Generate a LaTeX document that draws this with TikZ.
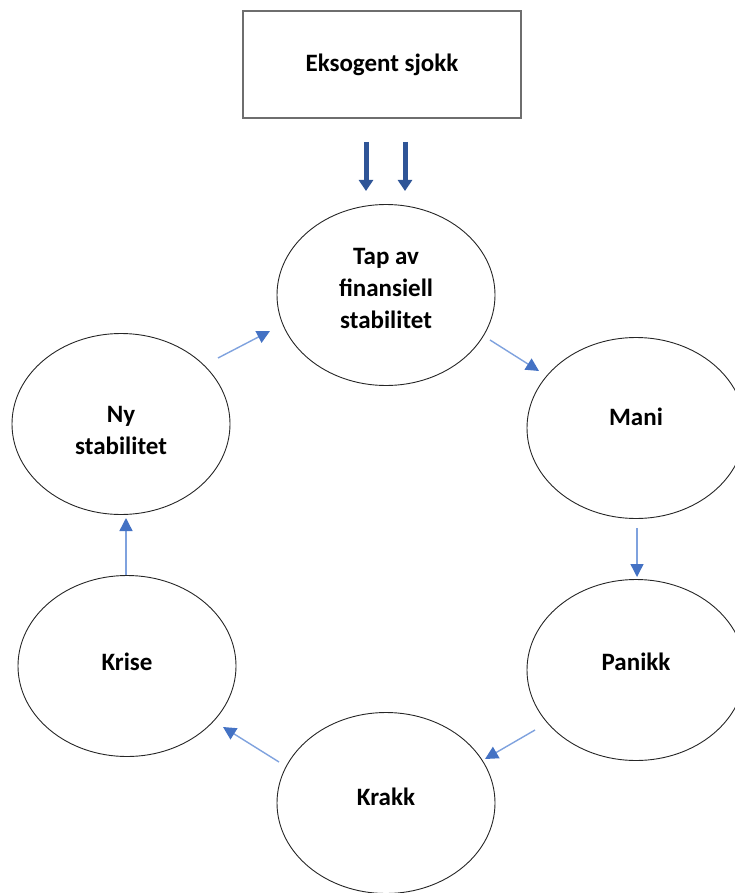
\documentclass[tikz,border=0pt]{standalone}
\usepackage{fontspec}
\setmainfont{Carlito}
\usetikzlibrary{shapes.geometric,arrows.meta}
\definecolor{lineblue}{HTML}{7FA2DE}
\definecolor{headblue}{HTML}{4472C4}
\definecolor{darkblue}{HTML}{2F5597}
\definecolor{boxgray}{HTML}{6E6E6E}
% #1 extra height (moves text down), #2 extra depth (moves text up)
\newcommand{\stagetext}[3]{\raisebox{0pt}[\dimexpr\height+#1\relax][\dimexpr\depth+#2\relax]{\parbox{110pt}{\centering #3}}}
\tikzset{
  stage/.style={ellipse,draw=black!85,line width=0.9pt,minimum width=218pt,minimum height=181pt,inner sep=0pt,
    font=\bfseries\fontsize{25}{32}\selectfont},
  topbox/.style={rectangle,draw=boxgray,line width=1.3pt,minimum width=278pt,minimum height=107pt,inner sep=0pt,
    font=\bfseries\fontsize{25}{32}\selectfont},
  cyc/.style={draw=lineblue,line width=1.4pt,-{Triangle[length=13pt,width=13pt,color=headblue]}},
  shock/.style={draw=darkblue,line width=5pt,-{Triangle[length=11pt,width=14pt]}},
}
\begin{document}
\begin{tikzpicture}[x=1pt,y=-1pt]
\useasboundingbox (0,0) rectangle (734,893);
\node[topbox] (box) at (382,64.5) {Eksogent sjokk};
\node[stage] (tap) at (386,295) {\stagetext{0pt}{14pt}{Tap av\\finansiell\\stabilitet}};
\node[stage] (ny) at (121,424) {\stagetext{12pt}{0pt}{Ny\\stabilitet}};
\node[stage,text depth=22pt] (mani) at (636,428) {Mani};
\node[stage,text depth=16pt] (panikk) at (636,670) {Panikk};
\node[stage,text depth=12pt] (krakk) at (386,803) {Krakk};
\node[stage,text depth=8pt] (krise) at (127,666) {Krise};
% shock arrows
\coordinate (s1a) at (366,142); \coordinate (s1b) at (366,191);
\coordinate (s2a) at (405,142); \coordinate (s2b) at (405,191);
\draw[shock] (s1a) -- (s1b);
\draw[shock] (s2a) -- (s2b);
% cycle arrows
\coordinate (a1) at (218,358); \coordinate (a2) at (270,331);
\coordinate (b1) at (490,340); \coordinate (b2) at (539,371);
\coordinate (c1) at (637,528); \coordinate (c2) at (637,577);
\coordinate (d1) at (535,730); \coordinate (d2) at (485,759);
\coordinate (e1) at (279,762); \coordinate (e2) at (223,727);
\coordinate (f1) at (126,575); \coordinate (f2) at (126,518);
\draw[cyc] (a1) -- (a2);
\draw[cyc] (b1) -- (b2);
\draw[cyc] (c1) -- (c2);
\draw[cyc] (d1) -- (d2);
\draw[cyc] (e1) -- (e2);
\draw[cyc] (f1) -- (f2);
\end{tikzpicture}
\end{document}
